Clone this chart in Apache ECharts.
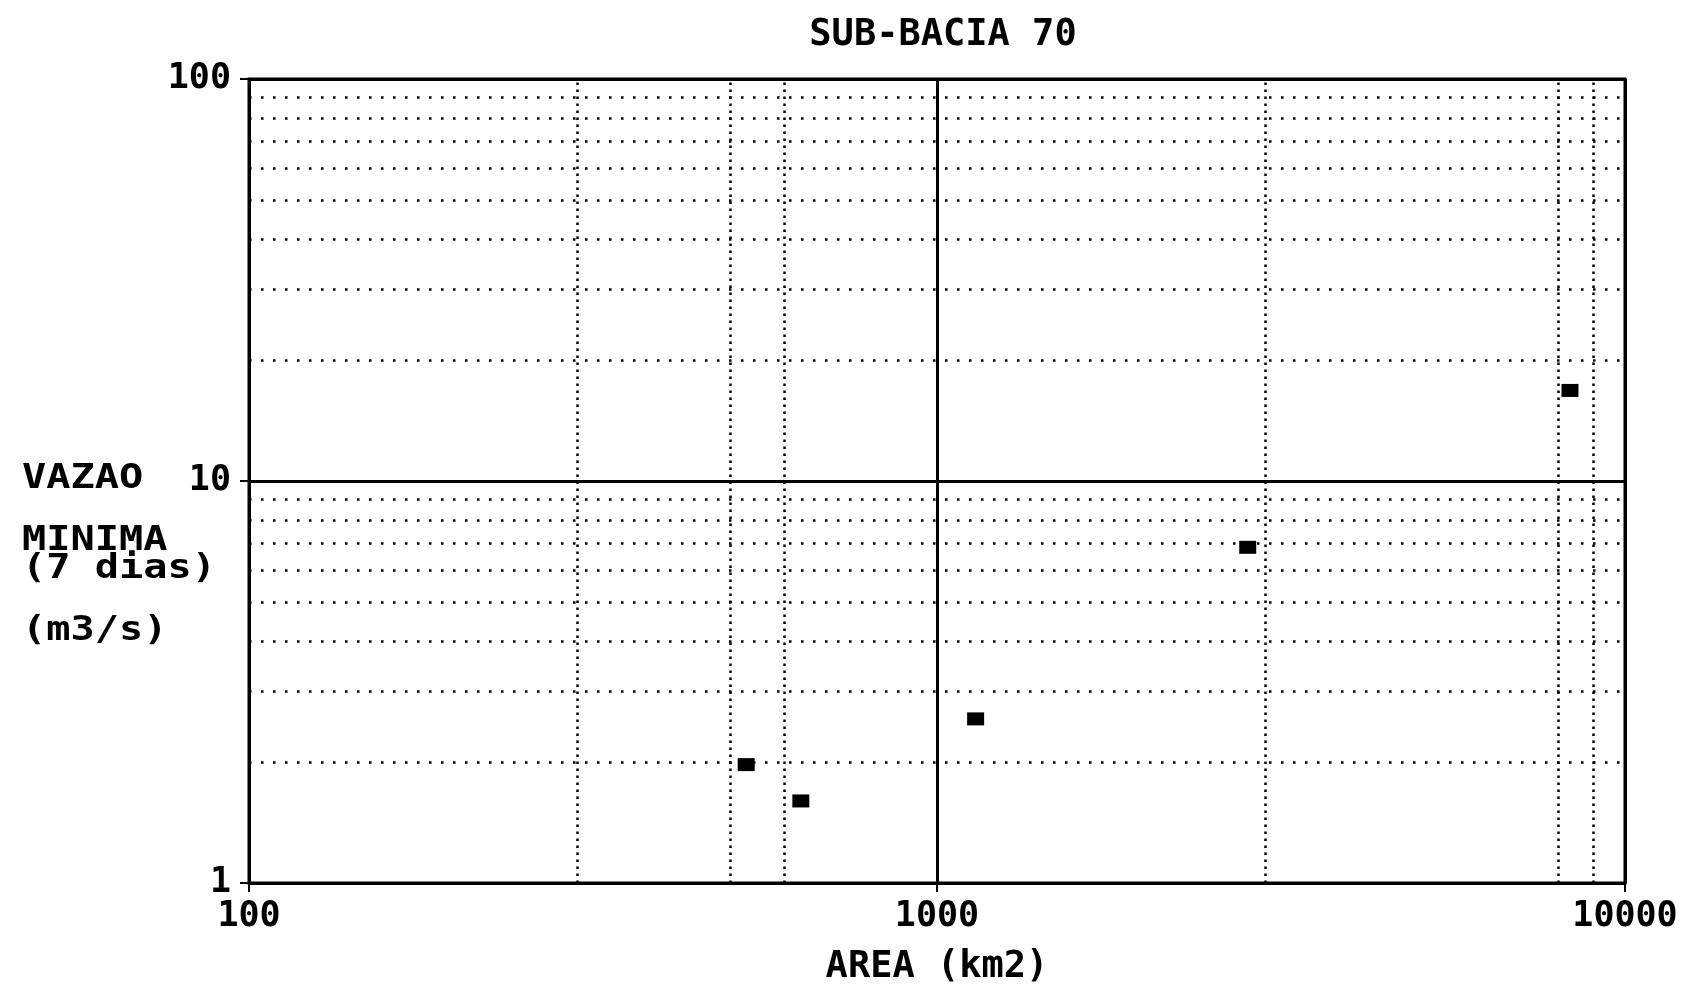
<!DOCTYPE html>
<html>
<head>
<meta charset="utf-8">
<script src="https://cdn.jsdelivr.net/npm/echarts@6/dist/echarts.min.js"></script>
<style>
html,body{margin:0;padding:0;background:#fff;}
#chart{width:1697px;height:994px;}
</style>
</head>
<body>
<div id="chart"></div>
<script>
// Data
const areaKm2 = [528, 634, 1138, 2829, 8318];
const vazaoMinima = [1.97, 1.60, 2.56, 6.84, 16.8];
// Dotted reference grid lines
const xDottedLines = [300, 500, 600, 3000, 8000, 9000];
const yDottedLines = [2, 3, 4, 5, 6, 7, 8, 9, 20, 30, 40, 50, 60, 70, 80, 90];
const titleText = 'SUB-BACIA 70';
const xAxisName = 'AREA (km2)';
const yNameLines = ['VAZAO', 'MINIMA', '(7 dias)', '(m3/s)'];

const FONT = 'DejaVu Sans Mono';
const chart = echarts.init(document.getElementById('chart'));

const points = areaKm2.map((a, i) => [a, vazaoMinima[i]]);

const yNameY = [479, 541, 569, 631];

chart.setOption({
  backgroundColor: '#fff',
  animation: false,
  title: {
    text: titleText,
    left: 938,
    top: 12,
    textAlign: 'center',
    textStyle: {fontFamily: FONT, fontWeight: 'bold', fontSize: 37, color: '#000'}
  },
  grid: {
    left: 249, right: 72, top: 79, bottom: 111,
    show: true, borderColor: '#000', borderWidth: 3, backgroundColor: 'transparent'
  },
  xAxis: {
    type: 'log', logBase: 10, min: 100, max: 10000,
    name: xAxisName, nameLocation: 'middle', nameGap: 66,
    nameTextStyle: {fontFamily: FONT, fontWeight: 'bold', fontSize: 37, color: '#000'},
    axisLine: {show: true, lineStyle: {color: '#000', width: 3}},
    axisTick: {show: true, length: 9, lineStyle: {color: '#000', width: 2}},
    axisLabel: {fontFamily: FONT, fontWeight: 'bold', fontSize: 35, color: '#000', margin: 16,
      formatter: v => String(Math.round(v))},
    splitLine: {show: true, lineStyle: {color: '#000', width: 3, type: 'solid'}},
    minorTick: {show: false}, minorSplitLine: {show: false}
  },
  yAxis: {
    type: 'log', logBase: 10, min: 1, max: 100,
    axisLine: {show: true, lineStyle: {color: '#000', width: 3}},
    axisTick: {show: true, length: 9, lineStyle: {color: '#000', width: 2}},
    axisLabel: {fontFamily: FONT, fontWeight: 'bold', fontSize: 35, color: '#000', margin: 18,
      formatter: v => String(Math.round(v))},
    splitLine: {show: true, lineStyle: {color: '#000', width: 3, type: 'solid'}},
    minorTick: {show: false}, minorSplitLine: {show: false}
  },
  graphic: yNameLines.map((t, i) => ({
    type: 'text',
    x: 22,
    y: yNameY[i],
    scaleX: 1.22,
    style: {text: t, fontFamily: FONT, fontWeight: 'bold', fontSize: 33, fill: '#000',
      textVerticalAlign: 'middle', verticalAlign: 'middle'}
  })),
  series: [
    {
      type: 'scatter',
      data: [],
      silent: true,
      markLine: {
        silent: true,
        symbol: ['none', 'none'],
        label: {show: false},
        lineStyle: {color: '#000', width: 2.5, type: [2.5, 4.5], opacity: 1},
        data: xDottedLines.map(v => ({xAxis: v}))
      }
    },
    {
      type: 'scatter',
      data: [],
      silent: true,
      markLine: {
        silent: true,
        symbol: ['none', 'none'],
        label: {show: false},
        lineStyle: {color: '#000', width: 2.5, type: [2.5, 9.5], opacity: 1},
        data: yDottedLines.map(v => ({yAxis: v}))
      }
    },
    {
      type: 'scatter',
      symbol: 'rect',
      symbolSize: [17, 13],
      itemStyle: {color: '#000', opacity: 1},
      z: 10,
      data: points
    }
  ]
});
</script>
</body>
</html>
